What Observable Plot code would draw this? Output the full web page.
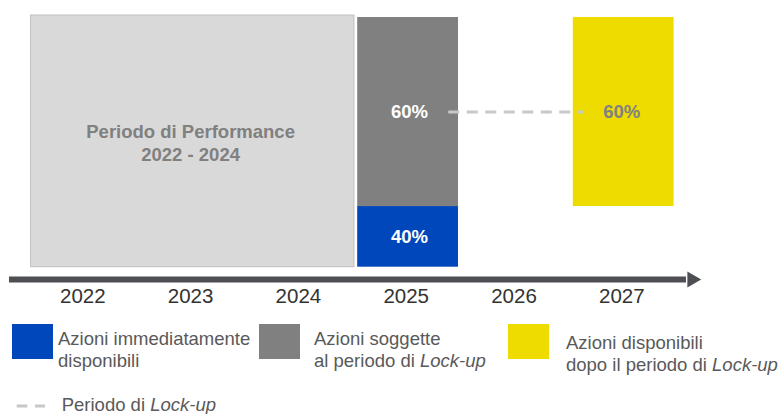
<!DOCTYPE html>
<html><head><meta charset="utf-8">
<script src="https://cdn.jsdelivr.net/npm/d3@7"></script>
<script src="https://cdn.jsdelivr.net/npm/@observablehq/plot@0.6"></script>
<style>
body{margin:0;background:#fff;font-family:"Liberation Sans",Arial,sans-serif;}
#wrap{position:relative;width:781px;height:414px;overflow:hidden}
#legend{position:relative;width:781px;height:104px}
.sw{position:absolute;width:41px;height:35px}
.lt{position:absolute;font-size:18.5px;line-height:22px;color:#595959;white-space:nowrap}
</style></head><body>
<div id="wrap"><div id="chart"></div><div id="legend"></div></div>
<script>
// ---- data ----
const years = [2022, 2023, 2024, 2025, 2026, 2027];
const performanceYears = [2022, 2024];
const performanceLabel = ["Periodo di Performance", "2022 - 2024"];
const segmentYear = [2025, 2025, 2027];
const segmentKind = ["immediate", "lockup", "after"];
const segmentShare = ["40%", "60%", "60%"];
const segmentBottom = [0, 24.1, 24.1];   // visual extent (stylised, not proportional)
const segmentTop = [24.1, 99.2, 99.2];
const lockupYears = [2025, 2027];
const kindColors = ["#0047bb", "#808080", "#eedc00"];
const legendText = [
  ["Azioni immediatamente", "disponibili"],
  ["Azioni soggette", "al periodo di <i>Lock-up</i>"],
  ["Azioni disponibili", "dopo il periodo di <i>Lock-up</i>"]
];
const lockupLegend = "Periodo di <i>Lock-up</i>";

// ---- build ----
const segments = segmentYear.map((year, i) => ({
  year, kind: segmentKind[i], share: segmentShare[i], y1: segmentBottom[i], y2: segmentTop[i]
}));
const period = [{x1: performanceYears[0], x2: performanceYears[1], label: performanceLabel.join("\n")}];
const lockSeg = segments[1];
const lockLine = [{x1: lockupYears[0], x2: lockupYears[1], y: (lockSeg.y1 + lockSeg.y2) / 2}];
const axisColor = "#4d4f53";

const chart = Plot.plot({
  width: 781, height: 310,
  marginLeft: 28.4, marginRight: 105.8, marginTop: 15, marginBottom: 43.3,
  x: {domain: [2021.5, 2027.5], ticks: years, tickFormat: "d", tickSize: 0, tickPadding: 21, label: null},
  y: {domain: [0, 100], axis: null},
  color: {domain: segmentKind, range: kindColors},
  style: {fontFamily: "'Liberation Sans', Arial, sans-serif", fontSize: "20.5px", color: "#333", background: "#fff", overflow: "visible"},
  marks: [
    Plot.rect(period, {x1: d => d.x1 - 0.48, x2: d => d.x2 + 0.52, y1: 0, y2: 100, fill: "#d9d9d9", stroke: "#bfbfbf", strokeWidth: 1}),
    Plot.text(period, {x: d => (d.x1 + d.x2) / 2, y: 49.6, text: "label", fill: "#808080", fontWeight: "bold", fontSize: 18.5, lineHeight: 1.25}),
    Plot.rect(segments, {x1: d => d.year - 0.45, x2: d => d.year + 0.485, y1: "y1", y2: "y2", fill: "kind"}),
    Plot.ruleY(lockLine, {y: "y", x1: d => d.x1 + 0.395, x2: d => d.x2 - 0.346, stroke: "#c8c8c8", strokeWidth: 3, strokeDasharray: "11,7.5"}),
    Plot.text(segments.filter(d => d.kind !== "after"), {x: d => d.year + 0.03, y: d => (d.y1 + d.y2) / 2, text: "share", fill: "#fff", fontWeight: "bold", fontSize: 18.5}),
    Plot.text(segments.filter(d => d.kind === "after"), {x: d => d.year, y: d => (d.y1 + d.y2) / 2, text: "share", fill: "#808080", fontWeight: "bold", fontSize: 18.5}),
    Plot.ruleY([0], {x1: years[0] - 0.68, x2: years[years.length - 1] + 0.6, stroke: axisColor, strokeWidth: 6, dy: 12.3}),
    Plot.dot([0], {x: years[years.length - 1] + 0.651, y: 0, dy: 12.3, symbol: "triangle", rotate: 90, r: 5.94, fill: axisColor, stroke: "none"})
  ]
});
document.getElementById("chart").appendChild(chart);

// ---- legend ----
const legend = document.getElementById("legend");
const swLeft = [12, 259, 508];
const txLeft = [58, 314, 566];
const txTop = [18.1, 18.1, 21.8];
legendText.forEach((lines, i) => {
  const sw = document.createElement("div");
  sw.className = "sw";
  sw.style.left = swLeft[i] + "px";
  sw.style.top = "14px";
  sw.style.background = kindColors[i];
  legend.appendChild(sw);
  const tx = document.createElement("div");
  tx.className = "lt";
  tx.style.left = txLeft[i] + "px";
  tx.style.top = txTop[i] + "px";
  tx.innerHTML = lines.join("<br>");
  legend.appendChild(tx);
});
const dash = document.createElementNS("http://www.w3.org/2000/svg", "svg");
dash.setAttribute("width", 32); dash.setAttribute("height", 6);
dash.style.position = "absolute"; dash.style.left = "16px"; dash.style.top = "93px";
dash.innerHTML = '<line x1="0.7" x2="29" y1="3" y2="3" stroke="#c8c8c8" stroke-width="3" stroke-dasharray="10.6,7.7"/>';
legend.appendChild(dash);
const lt = document.createElement("div");
lt.className = "lt";
lt.style.left = "61.7px"; lt.style.top = "83.6px";
lt.innerHTML = lockupLegend;
legend.appendChild(lt);
</script>
</body></html>
